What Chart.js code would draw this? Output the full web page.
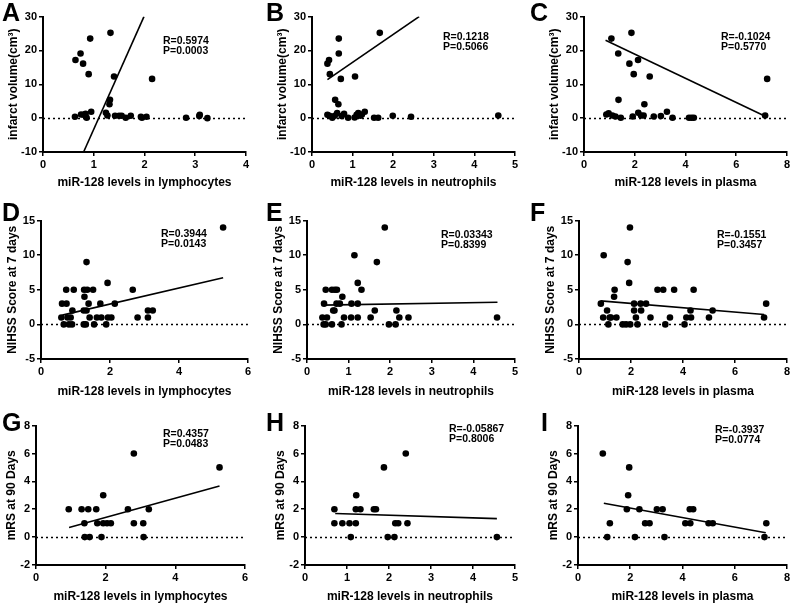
<!DOCTYPE html>
<html>
<head>
<meta charset="utf-8">
<script src="https://cdn.jsdelivr.net/npm/chart.js@4.4.1/dist/chart.umd.min.js"></script>
<style>
  body { margin: 0; background: #fff; width: 792px; height: 604px; position: relative; overflow: hidden;
         font-family: Arial, "Liberation Sans", sans-serif; }
  .letter { position: absolute; font-weight: bold; font-size: 25px; line-height: 25px; color: #000; }
  .stat { position: absolute; font-weight: bold; font-size: 10.5px; line-height: 10px; color: #000; white-space: pre; }
</style>
</head>
<body>
<script>
// axis ticks
const infarctTicks = [-10, 0, 10, 20, 30]
const nihssTicks = [-5, 0, 5, 10, 15]
const mrsTicks = [-2, 0, 2, 4, 6, 8]
const lymphTicksA = [0, 1, 2, 3, 4]
const lymphTicks = [0, 2, 4, 6]
const neutroTicks = [0, 1, 2, 3, 4, 5]
const plasmaTicks = [0, 2, 4, 6, 8]

const xTitles = ['miR-128 levels in lymphocytes', 'miR-128 levels in neutrophils', 'miR-128 levels in plasma']
const yTitles = ['infarct volume(cm\u00B3)', 'NIHSS Score at 7 days', 'mRS at 90 Days']

// A: infarct volume vs lymphocytes
const aX = [0.63, 0.64, 0.74, 0.79, 0.93, 0.90, 0.75, 0.80, 0.84, 0.86, 0.95, 1.33, 1.40, 1.32, 1.31, 1.24, 1.27, 1.42, 1.50, 1.55, 1.63, 1.73, 1.93, 1.95, 2.04, 2.15, 2.82, 3.08, 3.09, 3.24]
const aY = [0.4, 17.2, 19.1, 16.1, 23.5, 13.0, 1.1, 1.0, 1.3, 0.1, 1.9, 25.2, 12.3, 5.4, 4.1, 1.6, 0.8, 0.7, 0.7, 0.7, 0.1, 0.7, 0.4, 0.1, 0.4, 11.6, 0.1, 0.6, 1.0, 0.0]
const aFitX = [0.80, 1.99]
const aFitY = [-10, 30]
const aStat = ['R=0.5974', 'P=0.0003']

// B: infarct volume vs neutrophils
const bX = [0.38, 0.42, 0.44, 0.38, 0.43, 0.50, 0.56, 0.57, 0.65, 0.62, 0.66, 0.66, 0.71, 0.73, 0.79, 0.89, 1.06, 1.05, 1.10, 1.14, 1.19, 1.23, 1.30, 1.67, 1.53, 1.63, 1.99, 2.44, 4.59]
const bY = [16.1, 17.2, 13.0, 1.0, 0.7, 0.1, 0.7, 5.4, 4.1, 1.5, 23.5, 19.1, 11.6, 0.6, 1.3, 0.1, 12.3, 0.2, 1.0, 1.5, 0.7, 1.1, 1.9, 25.2, 0.1, 0.1, 0.7, 0.4, 0.8]
const bFitX = [0.38, 2.64]
const bFitY = [11.4, 30]
const bStat = ['R=0.1218', 'P=0.5066']

// C: infarct volume vs plasma
const cX = [0.88, 0.97, 1.08, 1.12, 1.24, 1.35, 1.36, 1.45, 1.79, 1.87, 1.96, 1.92, 2.13, 2.14, 2.25, 2.35, 2.38, 2.59, 2.75, 3.03, 3.27, 3.49, 4.14, 4.24, 4.33, 7.14, 7.22]
const cY = [1.1, 1.4, 23.5, 0.8, 0.5, 19.1, 5.4, 0.1, 16.1, 25.2, 13.0, 0.5, 17.2, 1.6, 0.8, 0.8, 4.1, 12.3, 0.5, 0.6, 1.9, 0.1, 0.1, 0.1, 0.1, 0.8, 11.6]
const cFitX = [0.85, 7.08]
const cFitY = [23.0, 0.8]
const cStat = ['R=-0.1024', 'P=0.5770']

// D: NIHSS vs lymphocytes
const dX = [5.28, 1.32, 1.93, 0.73, 0.95, 1.25, 1.34, 1.51, 2.66, 1.26, 0.61, 0.74, 1.38, 1.72, 2.14, 0.91, 1.24, 1.32, 3.10, 3.24, 0.59, 0.77, 0.86, 1.41, 1.62, 1.75, 1.94, 2.04, 2.80, 3.10, 0.66, 0.81, 0.90, 1.24, 1.30, 1.54, 1.89]
const dY = [14, 9, 6, 5, 5, 5, 5, 5, 5, 4, 3, 3, 3, 3, 3, 2, 2, 2, 2, 2, 1, 1, 1, 1, 1, 1, 1, 1, 1, 1, 0, 0, 0, 0, 0, 0, 0]
const dFitX = [0.62, 5.28]
const dFitY = [1.34, 6.75]
const dStat = ['R=0.3944', 'P=0.0143']

// E: NIHSS vs neutrophils
const eX = [1.87, 1.14, 1.68, 1.22, 0.45, 0.60, 0.67, 0.72, 1.31, 0.85, 0.41, 0.71, 0.79, 1.07, 1.22, 0.63, 0.66, 1.63, 2.15, 0.37, 0.48, 0.89, 1.06, 1.22, 1.53, 2.22, 2.44, 4.57, 0.40, 0.45, 0.60, 0.83, 1.97, 2.13]
const eY = [14, 10, 9, 6, 5, 5, 5, 5, 5, 4, 3, 3, 3, 3, 3, 2, 2, 2, 2, 1, 1, 1, 1, 1, 1, 1, 1, 1, 0, 0, 0, 0, 0, 0]
const eFitX = [0.37, 4.58]
const eFitY = [2.78, 3.21]
const eStat = ['R=0.03343', 'P=0.8399']

// F: NIHSS vs plasma
const fX = [1.96, 0.95, 1.87, 1.93, 1.37, 3.02, 3.24, 3.66, 4.41, 1.35, 0.84, 2.12, 2.37, 2.58, 7.20, 1.08, 2.12, 2.39, 4.29, 5.14, 0.93, 1.18, 1.23, 1.44, 2.19, 2.75, 3.50, 4.13, 4.31, 5.00, 7.12, 1.13, 1.68, 1.81, 1.97, 2.25, 3.32, 4.06]
const fY = [14, 10, 9, 6, 5, 5, 5, 5, 5, 4, 3, 3, 3, 3, 3, 2, 2, 2, 2, 2, 1, 1, 1, 1, 1, 1, 1, 1, 1, 1, 1, 0, 0, 0, 0, 0, 0, 0]
const fFitX = [0.83, 7.12]
const fFitY = [3.40, 1.44]
const fStat = ['R=-0.1551', 'P=0.3457']

// G: mRS vs lymphocytes
const gX = [2.81, 5.27, 1.93, 0.94, 1.31, 1.50, 1.73, 2.64, 3.24, 1.39, 1.76, 1.93, 2.04, 2.15, 2.81, 3.08, 1.40, 1.54, 1.88, 3.09]
const gY = [6, 5, 3, 2, 2, 2, 2, 2, 2, 1, 1, 1, 1, 1, 1, 1, 0, 0, 0, 0]
const gFitX = [0.95, 5.27]
const gFitY = [0.69, 3.67]
const gStat = ['R=0.4357', 'P=0.0483']

// H: mRS vs neutrophils
const hX = [2.40, 1.88, 1.22, 0.70, 1.21, 1.32, 1.64, 1.69, 0.70, 0.89, 1.06, 1.21, 2.15, 2.22, 2.44, 1.09, 1.97, 2.13, 4.57]
const hY = [6, 5, 3, 2, 2, 2, 2, 2, 1, 1, 1, 1, 1, 1, 1, 0, 0, 0, 0]
const hFitX = [0.72, 4.57]
const hFitY = [1.69, 1.33]
const hStat = ['R=-0.05867', 'P=0.8006']

// I: mRS vs plasma
const iX = [0.95, 1.96, 1.92, 1.87, 2.35, 3.02, 3.24, 4.28, 4.41, 1.22, 2.57, 2.74, 4.11, 4.30, 5.00, 5.16, 7.21, 1.12, 2.18, 3.31, 7.14]
const iY = [6, 5, 3, 2, 2, 2, 2, 2, 2, 1, 1, 1, 1, 1, 1, 1, 1, 0, 0, 0, 0]
const iFitX = [0.99, 7.19]
const iFitY = [2.43, 0.31]
const iStat = ['R=-0.3937', 'P=0.0774']


const FONT = 'Arial, "Liberation Sans", sans-serif'
Chart.defaults.font.family = FONT
Chart.defaults.color = '#000'

// rect = [plotLeft, plotRight, plotTop, plotBottom], yw/xh = axis box sizes
const panels = [
    { id: 'A', x: aX, y: aY, fx: aFitX, fy: aFitY, xt: lymphTicksA, yt: infarctTicks, xTitle: xTitles[0], yTitle: yTitles[0], stat: aStat, rect: [43, 247, 16, 152], yw: 37, xh: 38, letter: [2, 0], statPos: [163, 35] },
    { id: 'B', x: bX, y: bY, fx: bFitX, fy: bFitY, xt: neutroTicks, yt: infarctTicks, xTitle: xTitles[1], yTitle: yTitles[0], stat: bStat, rect: [312, 516, 16, 152], yw: 37, xh: 38, letter: [266, 0], statPos: [443, 31] },
    { id: 'C', x: cX, y: cY, fx: cFitX, fy: cFitY, xt: plasmaTicks, yt: infarctTicks, xTitle: xTitles[2], yTitle: yTitles[0], stat: cStat, rect: [584, 788, 16, 152], yw: 37, xh: 38, letter: [530, 0], statPos: [721, 31] },
    { id: 'D', x: dX, y: dY, fx: dFitX, fy: dFitY, xt: lymphTicks, yt: nihssTicks, xTitle: xTitles[0], yTitle: yTitles[1], stat: dStat, rect: [41, 249, 220, 359], yw: 36, xh: 40, letter: [2, 200], statPos: [161, 228] },
    { id: 'E', x: eX, y: eY, fx: eFitX, fy: eFitY, xt: neutroTicks, yt: nihssTicks, xTitle: xTitles[1], yTitle: yTitles[1], stat: eStat, rect: [307, 516, 220, 359], yw: 36, xh: 40, letter: [266, 200], statPos: [441, 229] },
    { id: 'F', x: fX, y: fY, fx: fFitX, fy: fFitY, xt: plasmaTicks, yt: nihssTicks, xTitle: xTitles[2], yTitle: yTitles[1], stat: fStat, rect: [579, 788, 220, 359], yw: 36, xh: 40, letter: [530, 200], statPos: [717, 229] },
    { id: 'G', x: gX, y: gY, fx: gFitX, fy: gFitY, xt: lymphTicks, yt: mrsTicks, xTitle: xTitles[0], yTitle: yTitles[2], stat: gStat, rect: [36, 246, 425, 565], yw: 32, xh: 39, letter: [2, 410], statPos: [163, 428] },
    { id: 'H', x: hX, y: hY, fx: hFitX, fy: hFitY, xt: neutroTicks, yt: mrsTicks, xTitle: xTitles[1], yTitle: yTitles[2], stat: hStat, rect: [305, 516, 425, 565], yw: 32, xh: 39, letter: [266, 410], statPos: [449, 423] },
    { id: 'I', x: iX, y: iY, fx: iFitX, fy: iFitY, xt: plasmaTicks, yt: mrsTicks, xTitle: xTitles[2], yTitle: yTitles[2], stat: iStat, rect: [578, 788, 425, 565], yw: 32, xh: 39, letter: [541, 410], statPos: [715, 424] },
]

// dotted line at y = 0
const zeroLine = {
    id: 'zeroLine',
    beforeDatasetsDraw(chart) {
        const { ctx, chartArea, scales } = chart
        const y = Math.round(scales.y.getPixelForValue(0)) + 0.5
        ctx.save()
        ctx.setLineDash([2, 3])
        ctx.lineWidth = 1.3
        ctx.strokeStyle = '#000'
        ctx.beginPath()
        ctx.moveTo(chartArea.left, y)
        ctx.lineTo(chartArea.right, y)
        ctx.stroke()
        ctx.restore()
    }
}

const axisStyle = (ticks, title, size) => ({
    type: 'linear',
    min: ticks[0],
    max: ticks[ticks.length - 1],
    ticks: {
        stepSize: ticks[1] - ticks[0],
        font: { size: 11, weight: 'bold' },
        color: '#000',
        padding: 2
    },
    grid: { drawOnChartArea: false, tickLength: 4, color: '#000', lineWidth: 1.5 },
    border: { color: '#000', width: 2 },
    title: { display: true, text: title, font: { size: 12, weight: 'bold' }, color: '#000', padding: 0 },
    afterFit: size
})

panels.forEach(p => {
    const [L, R, T, B] = p.rect
    const w = R - L + p.yw + 4
    const h = B - T + 8 + p.xh
    const cv = document.createElement('canvas')
    cv.width = w
    cv.height = h
    cv.style.cssText = `position:absolute;left:${L - p.yw}px;top:${T - 8}px;width:${w}px;height:${h}px`
    document.body.appendChild(cv)

    new Chart(cv, {
        type: 'scatter',
        data: {
            datasets: [
                {
                    data: p.x.map((v, i) => ({ x: v, y: p.y[i] })),
                    pointRadius: 3.3,
                    pointBackgroundColor: '#000',
                    pointBorderWidth: 0,
                    showLine: false
                },
                {
                    data: p.fx.map((v, i) => ({ x: v, y: p.fy[i] })),
                    showLine: true,
                    borderColor: '#000',
                    borderWidth: 1.6,
                    pointRadius: 0
                }
            ]
        },
        options: {
            responsive: false,
            animation: false,
            layout: { autoPadding: false, padding: { top: 8, right: 4, left: 0, bottom: 0 } },
            plugins: { legend: { display: false }, tooltip: { enabled: false } },
            scales: {
                x: Object.assign(axisStyle(p.xt, p.xTitle, s => { s.height = p.xh }), { position: 'bottom' }),
                y: Object.assign(axisStyle(p.yt, p.yTitle, s => { s.width = p.yw }), { position: 'left' })
            }
        },
        plugins: [zeroLine]
    })

    const letter = document.createElement('div')
    letter.className = 'letter'
    letter.style.left = p.letter[0] + 'px'
    letter.style.top = p.letter[1] + 'px'
    letter.textContent = p.id
    document.body.appendChild(letter)

    const stat = document.createElement('div')
    stat.className = 'stat'
    stat.style.left = p.statPos[0] + 'px'
    stat.style.top = p.statPos[1] + 'px'
    stat.textContent = p.stat.join('\n')
    document.body.appendChild(stat)
})
</script>
</body>
</html>
